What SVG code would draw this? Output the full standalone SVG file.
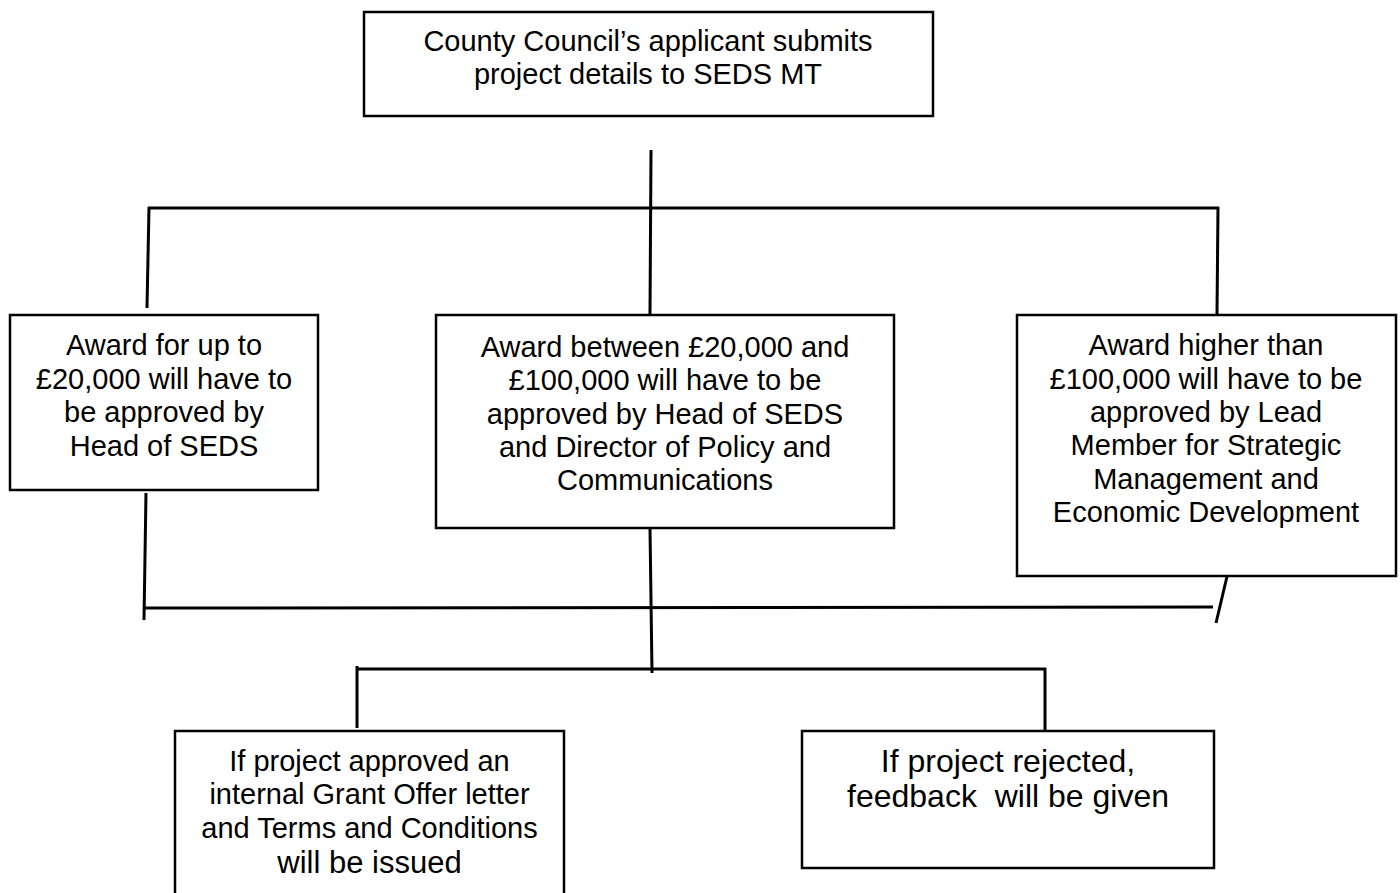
<svg xmlns="http://www.w3.org/2000/svg" width="1400" height="893" viewBox="0 0 1400 893">
<style>
  .box { fill: #ffffff; stroke: #000000; stroke-width: 2.5; }
  .lbl { font-family: "Liberation Sans", Arial, sans-serif; font-size: 29px; fill: #000000; text-anchor: middle; }
  .lbl32 { font-family: "Liberation Sans", Arial, sans-serif; font-size: 32px; fill: #000000; text-anchor: middle; white-space: pre; }
  .conn line { stroke: #000000; stroke-width: 3; stroke-linecap: butt; }
</style>
<rect x="0" y="0" width="1400" height="893" fill="#ffffff"/>
<g id="connectors" class="conn">
  <line x1="651" y1="150" x2="650" y2="315"/>
  <line x1="148" y1="208" x2="1219" y2="208"/>
  <line x1="149" y1="207" x2="147" y2="308"/>
  <line x1="1218" y1="207" x2="1217" y2="314"/>
  <line x1="146" y1="493" x2="144" y2="620"/>
  <line x1="144" y1="608" x2="1213" y2="607"/>
  <line x1="1229" y1="568" x2="1216" y2="623"/>
  <line x1="650" y1="528" x2="652" y2="673"/>
  <line x1="357" y1="666" x2="357" y2="728"/>
  <line x1="356" y1="669" x2="1046" y2="669"/>
  <line x1="1045" y1="668" x2="1045" y2="738"/>
</g>
<g id="node-submit">
  <rect class="box" x="364" y="12" width="569" height="104"/>
  <text class="lbl" x="648" y="51">County Council’s applicant submits</text>
  <text class="lbl" x="648" y="84">project details to SEDS MT</text>
</g>
<g id="node-up-to-20k">
  <rect class="box" x="10" y="315" width="308" height="175"/>
  <text class="lbl" x="164" y="355">Award for up to</text>
  <text class="lbl" x="164" y="388.5">£20,000 will have to</text>
  <text class="lbl" x="164" y="422">be approved by</text>
  <text class="lbl" x="164" y="455.5">Head of SEDS</text>
</g>
<g id="node-20k-100k">
  <rect class="box" x="436" y="315" width="458" height="213"/>
  <text class="lbl" x="665" y="357">Award between £20,000 and</text>
  <text class="lbl" x="665" y="390">£100,000 will have to be</text>
  <text class="lbl" x="665" y="423.5">approved by Head of SEDS</text>
  <text class="lbl" x="665" y="457">and Director of Policy and</text>
  <text class="lbl" x="665" y="490">Communications</text>
</g>
<g id="node-over-100k">
  <rect class="box" x="1017" y="315" width="379" height="261"/>
  <text class="lbl" x="1206" y="355">Award higher than</text>
  <text class="lbl" x="1206" y="388.5">£100,000 will have to be</text>
  <text class="lbl" x="1206" y="422">approved by Lead</text>
  <text class="lbl" x="1206" y="455">Member for Strategic</text>
  <text class="lbl" x="1206" y="488.5">Management and</text>
  <text class="lbl" x="1206" y="522">Economic Development</text>
</g>
<g id="node-approved">
  <rect class="box" x="175" y="731" width="389" height="180"/>
  <text class="lbl" x="369.5" y="771">If project approved an</text>
  <text class="lbl" x="369.5" y="804">internal Grant Offer letter</text>
  <text class="lbl" x="369.5" y="837.5">and Terms and Conditions</text>
  <text class="lbl" x="369.5" y="873" style="font-size:31px">will be issued</text>
</g>
<g id="node-rejected">
  <rect class="box" x="802" y="731" width="412" height="137"/>
  <text class="lbl32" x="1008" y="772" xml:space="preserve">If project rejected,</text>
  <text class="lbl32" x="1008" y="807" xml:space="preserve">feedback  will be given</text>
</g>
</svg>
